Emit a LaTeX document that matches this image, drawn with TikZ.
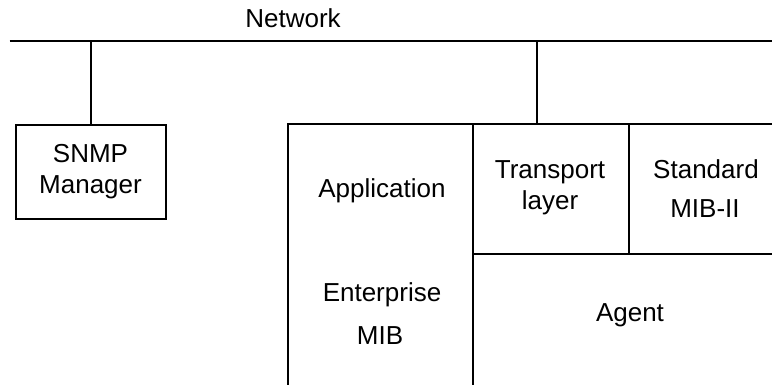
\documentclass[tikz,border=0pt]{standalone}
\usepackage{fontspec}
\setmainfont{Liberation Sans}
\begin{document}
\begin{tikzpicture}[x=1pt,y=-1pt,line width=2pt,
  txt/.style={font=\fontsize{26}{31}\selectfont, align=center, inner sep=0pt, anchor=base},
  mgrbox/.style={draw, minimum width=150pt, minimum height=94.5pt, inner sep=0pt, font=\fontsize{26}{31}\selectfont, align=center}]
\useasboundingbox (0,0) rectangle (772,385);
% network bus
\coordinate (nl) at (9.5,41.5);
\coordinate (nr) at (772,41.5);
\draw (nl) -- (nr);
\node[txt] (net) at (293,27.3) {Network};
% manager
\node[mgrbox] (mgr) at (90.5,172) {SNMP\\Manager};
\coordinate (tapm) at (mgr.north |- nl);
\draw (tapm) -- (mgr.north);
% agent host structure
\coordinate (hbl) at (287.5,385);
\coordinate (htl) at (287.5,124.5);
\coordinate (htr) at (772,124.5);
\coordinate (atop) at (473,124.5);
\coordinate (abot) at (473,385);
\coordinate (aml) at (473,254);
\coordinate (amr) at (772,254);
\coordinate (stop) at (629.3,124.5);
\coordinate (sbot) at (629.3,254);
\coordinate (taph) at (536.7,41.5);
\coordinate (taphb) at (536.7,124.5);
\draw (hbl) -- (htl) -- (htr);
\draw (atop) -- (abot);
\draw (aml) -- (amr);
\draw (stop) -- (sbot);
\draw (taph) -- (taphb);
% labels
\node[txt] (app) at (382,197.3) {Application};
\node[txt] (tr1) at (550,179) {Transport};
\node[txt] (tr2) at (550,209.3) {layer};
\node[txt] (st1) at (706,179) {Standard};
\node[txt] (st2) at (705,217.7) {MIB-II};
\node[txt] (en1) at (382,301.7) {Enterprise};
\node[txt] (en2) at (380,344.3) {MIB};
\node[txt] (ag) at (630,321.7) {Agent};
\end{tikzpicture}
\end{document}
